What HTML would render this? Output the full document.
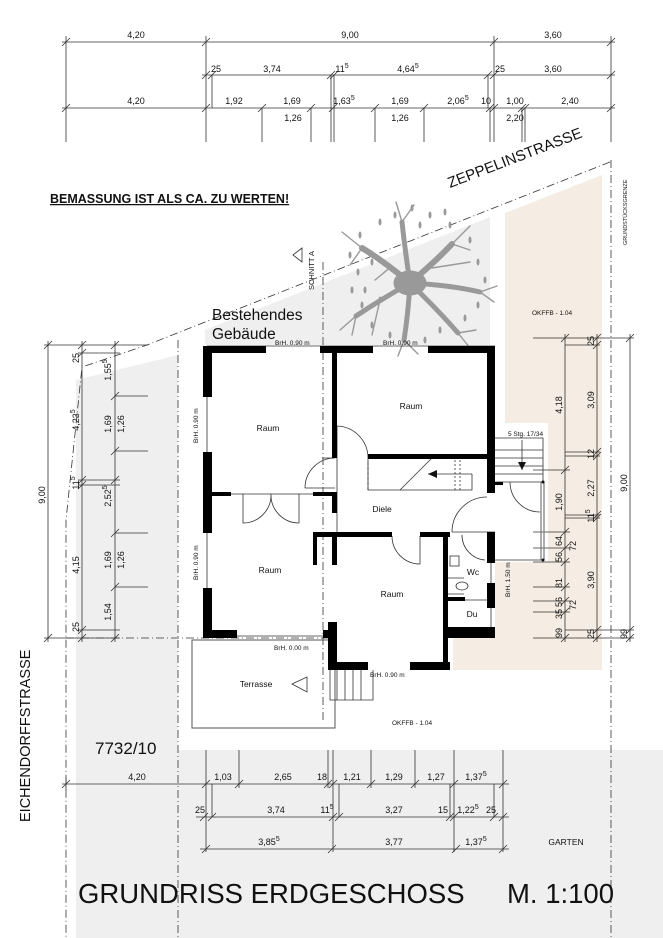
<!DOCTYPE html>
<html><head><meta charset="utf-8"><style>
html,body{margin:0;padding:0;background:#fff}
svg{display:block}
text{font-family:"Liberation Sans",sans-serif;fill:#111}
.d{font-size:9px}
.s{font-size:6.5px}
.r{font-size:8.5px}
</style></head><body>
<svg width="663" height="938" viewBox="0 0 663 938" xmlns="http://www.w3.org/2000/svg">
<polygon points="205,330 490,217 490,345 205,345" fill="#efefef"/>
<polygon points="76,380 178,355 178,938 76,938" fill="#efefef"/>
<rect x="76" y="750" width="590" height="188" fill="#efefef"/>
<polygon points="505,213 602,175 602,670 453,670 453,638 495,638 495,562 548,562 548,423 505,423" fill="#f5ece3"/>
<rect x="192" y="640" width="143" height="88" fill="#fff" stroke="#555" stroke-width="1"/>
<rect x="208" y="352" width="283" height="282" fill="#fff"/>
<rect x="332" y="634" width="118" height="32" fill="#fff"/>
<rect x="495" y="438" width="48" height="124" fill="#fff"/>

<g stroke="#333" stroke-width="0.8" fill="none" stroke-dasharray="8,3,1,3">
<polyline points="610,162 147,345 82,367 66,520 66,938"/>
<line x1="611" y1="160" x2="611" y2="938"/>
<line x1="178" y1="340" x2="178" y2="938"/>
<line x1="323" y1="262" x2="323" y2="720"/>
<line x1="66" y1="638" x2="335" y2="638"/>
</g>

<!-- tree -->
<g fill="#999" stroke="#999" stroke-linecap="round">
<ellipse cx="410" cy="283" rx="16" ry="12"/>
<g fill="none">
<path d="M410,283 Q385,262 362,248" stroke-width="6"/>
<path d="M410,283 Q405,250 402,222" stroke-width="5"/>
<path d="M410,283 Q435,262 452,244" stroke-width="6"/>
<path d="M410,283 Q450,285 480,292" stroke-width="5"/>
<path d="M410,283 Q438,310 458,333" stroke-width="5"/>
<path d="M410,283 Q408,315 404,340" stroke-width="5"/>
<path d="M410,283 Q380,300 356,316" stroke-width="5"/>
<path d="M362,248 L342,232 M362,248 L350,265 M402,222 L396,202 M402,222 L414,205 M452,244 L470,226 M452,244 L470,250 M480,292 L497,286 M480,292 L494,302 M458,333 L470,348 M458,333 L476,330 M404,340 L398,356 M404,340 L418,354 M356,316 L340,330 M356,316 L352,335 M380,300 L372,335 M432,268 L470,262 M392,266 L375,280" stroke-width="1.4"/>
</g>
<g stroke="none">
<ellipse cx="395" cy="215" rx="1.5" ry="3.5"/><ellipse cx="412" cy="208" rx="1.5" ry="3.5"/><ellipse cx="430" cy="215" rx="1.5" ry="3.5"/><ellipse cx="380" cy="222" rx="1.5" ry="3.5"/><ellipse cx="360" cy="235" rx="1.5" ry="3.5"/><ellipse cx="350" cy="255" rx="1.5" ry="3.5"/><ellipse cx="358" cy="272" rx="1.5" ry="3.5"/><ellipse cx="352" cy="290" rx="1.5" ry="3.5"/><ellipse cx="362" cy="305" rx="1.5" ry="3.5"/><ellipse cx="372" cy="325" rx="1.5" ry="3.5"/><ellipse cx="390" cy="335" rx="1.5" ry="3.5"/><ellipse cx="425" cy="340" rx="1.5" ry="3.5"/><ellipse cx="440" cy="330" rx="1.5" ry="3.5"/><ellipse cx="465" cy="318" rx="1.5" ry="3.5"/><ellipse cx="478" cy="305" rx="1.5" ry="3.5"/><ellipse cx="485" cy="280" rx="1.5" ry="3.5"/><ellipse cx="478" cy="262" rx="1.5" ry="3.5"/><ellipse cx="470" cy="240" rx="1.5" ry="3.5"/><ellipse cx="450" cy="225" rx="1.5" ry="3.5"/><ellipse cx="445" cy="212" rx="1.5" ry="3.5"/><ellipse cx="372" cy="262" rx="1.5" ry="3.5"/><ellipse cx="380" cy="300" rx="1.5" ry="3.5"/><ellipse cx="365" cy="290" rx="1.5" ry="3.5"/><ellipse cx="420" cy="225" rx="1.5" ry="3.5"/>
</g>
</g>

<g stroke="#333" stroke-width="0.8" fill="none">
<line x1="62" y1="42" x2="615" y2="42"/>
<line x1="202" y1="75" x2="615" y2="75"/>
<line x1="62" y1="108" x2="615" y2="108"/>
<path d="M66,36V142 M206,36V142 M494,36V142 M611,36V142 M212,75V108 M331,75V142 M334,75V142 M488,75V108 M262,108V142 M311,108V142 M375,108V142 M424,108V142 M490,108V142 M522,108V142 M525,108V142"/>
<path d="M62,46l8,-8 M202,46l8,-8 M490,46l8,-8 M607,46l8,-8 M202,79l8,-8 M208,79l8,-8 M327,79l8,-8 M330,79l8,-8 M484,79l8,-8 M490,79l8,-8 M607,79l8,-8 M62,112l8,-8 M202,112l8,-8 M258,112l8,-8 M307,112l8,-8 M329,112l8,-8 M371,112l8,-8 M420,112l8,-8 M486,112l8,-8 M490,112l8,-8 M518,112l8,-8 M521,112l8,-8 M607,112l8,-8"/>
</g>
<g class="d" text-anchor="middle">
<text x="136" y="38">4,20</text><text x="350" y="38">9,00</text><text x="553" y="38">3,60</text>
<text x="216" y="72">25</text><text x="272" y="72">3,74</text><text x="342" y="72">11<tspan font-size="7" dy="-4">5</tspan></text><text x="408" y="72">4,64<tspan font-size="7" dy="-4">5</tspan></text><text x="500" y="72">25</text><text x="553" y="72">3,60</text>
<text x="136" y="104">4,20</text><text x="234" y="104">1,92</text><text x="292" y="104">1,69</text><text x="344" y="104">1,63<tspan font-size="7" dy="-4">5</tspan></text><text x="400" y="104">1,69</text><text x="458" y="104">2,06<tspan font-size="7" dy="-4">5</tspan></text><text x="486" y="104">10</text><text x="515" y="104">1,00</text><text x="570" y="104">2,40</text>
<text x="293" y="121">1,26</text><text x="400" y="121">1,26</text><text x="515" y="121">2,20</text>
</g>

<text x="450" y="188" font-size="15" transform="rotate(-21 450 188)">ZEPPELINSTRASSE</text>
<text x="50" y="203" font-size="12.5" font-weight="bold" text-decoration="underline">BEMASSUNG IST ALS CA. ZU WERTEN!</text>
<text x="627" y="245" font-size="5.5" transform="rotate(-90 627 245)">GRUNDSTÜCKSGRENZE</text>
<text x="212" y="320" font-size="15.5">Bestehendes</text>
<text x="212" y="339" font-size="15.5">Gebäude</text>
<polygon points="293,255 302,248 302,262" fill="#fff" stroke="#333" stroke-width="0.8"/>
<text x="314" y="290" font-size="7.5" transform="rotate(-90 314 290)">SCHNITT A</text>
<text x="532" y="315" class="s">OKFFB - 1.04</text>

<g stroke="#333" stroke-width="0.8" fill="none">
<path d="M48,341V642 M82,341V642 M115,341V642 M44,345H148 M44,638H120 M78,353H120 M78,630H120 M78,480H120 M78,485H120 M115,396H148 M115,451H148 M115,533H148 M115,587H148"/>
<path d="M44,349l8,-8 M44,642l8,-8 M78,349l8,-8 M78,357l8,-8 M78,484l8,-8 M78,489l8,-8 M78,634l8,-8 M78,642l8,-8 M111,349l8,-8 M111,400l8,-8 M111,455l8,-8 M111,484l8,-8 M111,537l8,-8 M111,591l8,-8 M111,642l8,-8"/>
</g>
<g class="d" text-anchor="middle">
<text transform="translate(45,495) rotate(-90)">9,00</text>
<text transform="translate(79,358) rotate(-90)">25</text>
<text transform="translate(79,420) rotate(-90)">4,23<tspan font-size="7" dy="-4">5</tspan></text>
<text transform="translate(79,483) rotate(-90)">11<tspan font-size="7" dy="-4">5</tspan></text>
<text transform="translate(79,565) rotate(-90)">4,15</text>
<text transform="translate(79,627) rotate(-90)">25</text>
<text transform="translate(111,370) rotate(-90)">1,55<tspan font-size="7" dy="-4">5</tspan></text>
<text transform="translate(111,424) rotate(-90)">1,69</text>
<text transform="translate(111,496) rotate(-90)">2,52<tspan font-size="7" dy="-4">5</tspan></text>
<text transform="translate(111,560) rotate(-90)">1,69</text>
<text transform="translate(111,612) rotate(-90)">1,54</text>
<text transform="translate(124,424) rotate(-90)">1,26</text>
<text transform="translate(124,560) rotate(-90)">1,26</text>
</g>

<g stroke="#333" stroke-width="0.8" fill="none">
<path d="M565,334V642 M597,334V642 M630,334V642 M533,338H634 M565,345H600 M565,452H600 M565,456H600 M533,470H570 M565,515H600 M565,518H600 M533,532H570 M533,548H570 M533,562H570 M533,587H570 M533,601H570 M533,612H570 M565,630H634 M533,638H634"/>
<path d="M561,342l8,-8 M593,342l8,-8 M626,342l8,-8 M593,349l8,-8 M593,456l8,-8 M593,460l8,-8 M561,474l8,-8 M593,519l8,-8 M593,522l8,-8 M561,536l8,-8 M561,552l8,-8 M561,566l8,-8 M561,591l8,-8 M561,605l8,-8 M561,616l8,-8 M593,634l8,-8 M626,634l8,-8 M561,642l8,-8 M593,642l8,-8 M626,642l8,-8"/>
</g>
<g class="d" text-anchor="middle">
<text transform="translate(562,405) rotate(-90)">4,18</text>
<text transform="translate(562,502) rotate(-90)">1,90</text>
<text transform="translate(562,541) rotate(-90)">64</text>
<text transform="translate(562,557) rotate(-90)">56</text>
<text transform="translate(562,583) rotate(-90)">81</text>
<text transform="translate(562,602) rotate(-90)">56</text>
<text transform="translate(562,614) rotate(-90)">35</text>
<text transform="translate(562,633) rotate(-90)">99</text>
<text transform="translate(576,546) rotate(-90)">72</text>
<text transform="translate(576,605) rotate(-90)">72</text>
<text transform="translate(594,341) rotate(-90)">25</text>
<text transform="translate(594,400) rotate(-90)">3,09</text>
<text transform="translate(594,454) rotate(-90)">12</text>
<text transform="translate(594,488) rotate(-90)">2,27</text>
<text transform="translate(594,516) rotate(-90)">11<tspan font-size="7" dy="-4">5</tspan></text>
<text transform="translate(594,580) rotate(-90)">3,90</text>
<text transform="translate(594,634) rotate(-90)">25</text>
<text transform="translate(627,483) rotate(-90)">9,00</text>
<text transform="translate(627,634) rotate(-90)">99</text>
</g>

<g stroke="#333" stroke-width="0.8" fill="none">
<path d="M207,346H495 M207,397V452 M207,533V588 M237,636H323 M212,494H313"/>
<path d="M337,458V532 M322,458H333"/>
<path d="M337,426 A32,32 0 0 1 368,458 M337,426V458"/>
<path d="M305,488 A30,30 0 0 1 335,458 M305,488H335"/>
<path d="M243,494V523 A28,28 0 0 0 271,494 A28,28 0 0 0 299,523 V494"/>
<path d="M392,536 A28,28 0 0 0 420,564 V536"/>
<path d="M452,532 A35,35 0 0 1 487,497 M452,532H495"/>
<path d="M462,535 A25,25 0 0 0 485,560"/>
<path d="M510,482 A30,30 0 0 0 540,512"/>
<path d="M368,458V490H400 M400,490L432,458 M472,474V490H400"/>
<path d="M368,462V490" stroke-dasharray="3,2"/>
<path d="M455,460V490 M460,460V490" stroke-dasharray="2,2"/>
<path d="M472,474H428"/>
<path d="M495,438H543V482 M495,450H543 M495,458H543 M495,466H543 M495,474H543 M495,482H543 M495,560H543 M522,440V470"/>
<path d="M541,482V560 M544,482V560" stroke="#777" stroke-width="1.2"/>
<path d="M330,670V700H373V670 M337,670V700 M345,670V700 M353,670V700 M361,670V700"/>
<rect x="450" y="556" width="9" height="10"/>
<ellipse cx="462" cy="586" rx="6" ry="4"/>
<path d="M448,578H464 M448,594H464 M465,600H487"/>
<path d="M491,563V583 M491,608V627"/>
</g>
<polygon points="428,474 437,470 437,478" fill="#111"/>
<polygon points="522,470 518,462 526,462" fill="#111"/>
<polygon points="292,684 307,677 307,692" fill="#fff" stroke="#333" stroke-width="0.8"/>
<circle cx="543" cy="560" r="1.5" fill="#111"/><circle cx="543" cy="482" r="1.5" fill="#111"/>

<g fill="#000">
<rect x="203" y="346" width="63" height="7"/>
<rect x="320" y="346" width="53" height="7"/>
<rect x="428" y="346" width="67" height="7"/>
<rect x="203" y="346" width="9" height="51"/>
<rect x="203" y="452" width="9" height="81"/>
<rect x="203" y="588" width="9" height="50"/>
<rect x="203" y="630" width="34" height="8"/>
<rect x="323" y="630" width="14" height="8"/>
<rect x="487" y="346" width="8" height="147"/>
<rect x="332" y="346" width="5" height="112"/>
<rect x="368" y="454" width="119" height="5"/>
<rect x="212" y="492" width="19" height="4"/>
<rect x="313" y="492" width="24" height="4"/>
<rect x="332" y="492" width="5" height="21"/>
<rect x="313" y="532" width="79" height="5"/>
<rect x="420" y="532" width="30" height="5"/>
<rect x="313" y="532" width="4" height="33"/>
<rect x="332" y="532" width="5" height="33"/>
<rect x="443" y="532" width="5" height="138"/>
<rect x="328" y="622" width="9" height="48"/>
<rect x="328" y="662" width="40" height="8"/>
<rect x="410" y="662" width="40" height="8"/>
<rect x="487" y="532" width="8" height="31"/>
<rect x="487" y="583" width="8" height="25"/>
<rect x="448" y="627" width="47" height="11"/>
<rect x="448" y="597" width="17" height="4"/>
<rect x="495" y="482" width="8" height="3"/>
</g>

<g class="r" text-anchor="middle">
<text x="268" y="431">Raum</text><text x="411" y="409">Raum</text><text x="382" y="512">Diele</text>
<text x="270" y="573">Raum</text><text x="392" y="597">Raum</text><text x="473" y="575">Wc</text><text x="472" y="617">Du</text>
<text x="256" y="687">Terrasse</text>
</g>
<g class="s">
<text x="275" y="345">BrH. 0.90 m</text><text x="383" y="345">BrH. 0.90 m</text>
<text x="274" y="650">BrH. 0.00 m</text><text x="370" y="677">BrH. 0.90 m</text>
<text x="508" y="436">5 Stg. 17/34</text>
<text transform="translate(198,443) rotate(-90)">BrH. 0.90 m</text>
<text transform="translate(198,580) rotate(-90)">BrH. 0.90 m</text>
<text transform="translate(510,597) rotate(-90)">BrH. 1.50 m</text>
<text x="392" y="725">OKFFB - 1.04</text>
</g>

<g stroke="#333" stroke-width="0.8" fill="none">
<path d="M62,784H509 M196,817H509 M200,849H509"/>
<path d="M66,778V790 M206,750V852 M239,750V788 M328,750V788 M333,750V852 M371,750V788 M415,750V788 M454,750V852 M503,750V852 M212,784V817 M339,784V817 M450,784V817 M494,784V817"/>
<path d="M62,788l8,-8 M202,788l8,-8 M235,788l8,-8 M324,788l8,-8 M329,788l8,-8 M367,788l8,-8 M411,788l8,-8 M450,788l8,-8 M499,788l8,-8 M200,821l8,-8 M208,821l8,-8 M329,821l8,-8 M335,821l8,-8 M446,821l8,-8 M450,821l8,-8 M490,821l8,-8 M499,821l8,-8 M202,853l8,-8 M328,853l8,-8 M452,853l8,-8 M499,853l8,-8"/>
</g>
<g class="d" text-anchor="middle">
<text x="137" y="780">4,20</text><text x="223" y="780">1,03</text><text x="283" y="780">2,65</text><text x="322" y="780">18</text><text x="352" y="780">1,21</text><text x="394" y="780">1,29</text><text x="436" y="780">1,27</text><text x="476" y="780">1,37<tspan font-size="7" dy="-4">5</tspan></text>
<text x="200" y="813">25</text><text x="276" y="813">3,74</text><text x="327" y="813">11<tspan font-size="7" dy="-4">5</tspan></text><text x="394" y="813">3,27</text><text x="443" y="813">15</text><text x="468" y="813">1,22<tspan font-size="7" dy="-4">5</tspan></text><text x="491" y="813">25</text>
<text x="269" y="845">3,85<tspan font-size="7" dy="-4">5</tspan></text><text x="394" y="845">3,77</text><text x="476" y="845">1,37<tspan font-size="7" dy="-4">5</tspan></text>
<text x="566" y="845" font-size="8.5">GARTEN</text>
</g>

<text x="95" y="754" font-size="17">7732/10</text>
<text transform="translate(30,822) rotate(-90)" font-size="14.5">EICHENDORFFSTRASSE</text>
<text x="78" y="903" font-size="27.5">GRUNDRISS ERDGESCHOSS</text>
<text x="507" y="903" font-size="27.5">M. 1:100</text>
</svg>
</body></html>
